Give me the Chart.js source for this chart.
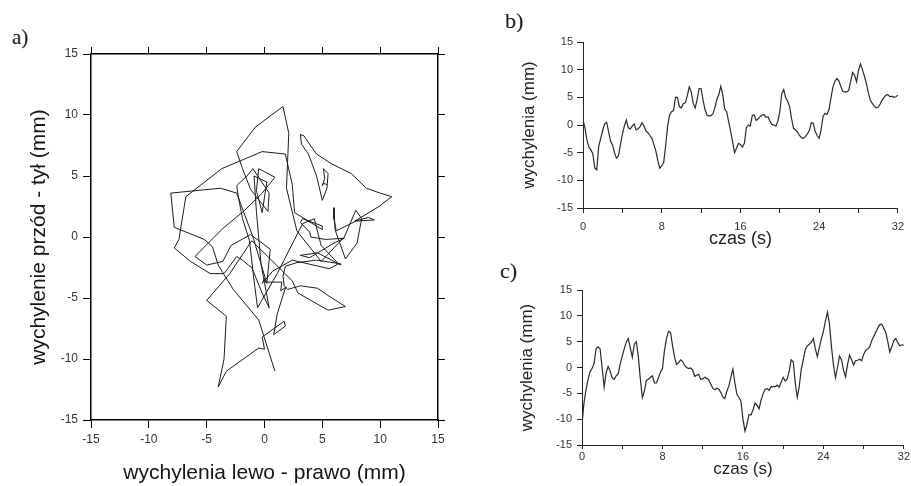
<!DOCTYPE html>
<html><head><meta charset="utf-8">
<script src="https://cdn.jsdelivr.net/npm/chart.js@4.4.1/dist/chart.umd.min.js"></script>
<style>
html,body{margin:0;padding:0;background:#fff}
body{width:911px;height:486px;overflow:hidden;position:relative}
canvas{position:absolute}
.lbl{position:absolute;font-family:'Liberation Serif','Times New Roman',serif;color:#111;line-height:1}
</style></head><body>
<div class="lbl" style="left:12px;top:27px;font-size:21px">a)</div>
<div class="lbl" style="left:505px;top:10px;font-size:22px">b)</div>
<div class="lbl" style="left:500px;top:260px;font-size:22px">c)</div>
<canvas id="cA" width="460" height="486" style="left:0;top:0"></canvas>
<canvas id="cB" width="411" height="250" style="left:500px;top:0"></canvas>
<canvas id="cC" width="411" height="236" style="left:500px;top:250px"></canvas>
<script>
// wychylenia lewo - prawo (mm), panel b, sampled every 0.2 s from 0 to 32 s
const lrValues = [
  0.9, -0.5, -2.7, -4.0, -4.5, -5.2, -7.8, -8.1, -3.8, -2.4,
  -1.0, 0.2, 0.5, -1.2, -2.9, -3.6, -5.0, -6.0, -5.6, -3.6,
  -1.7, -0.2, 0.9, -0.5, -0.7, -0.2, 0.2, -0.9, -0.7, -0.3,
  0.4, -0.2, -1.1, -1.4, -1.9, -2.4, -3.5, -4.7, -6.4, -7.8,
  -7.4, -6.8, -3.7, -0.2, 1.8, 2.4, 2.6, 5.0, 5.0, 3.3,
  3.1, 3.9, 4.0, 5.3, 6.9, 6.0, 3.9, 3.1, 4.6, 6.6,
  6.6, 4.5, 2.8, 1.8, 1.6, 1.7, 2.0, 3.1, 4.6, 5.5,
  7.0, 5.5, 2.9, 2.4, 0.6, -1.1, -3.0, -5.0, -4.2, -3.3,
  -3.5, -4.0, -3.3, -0.5, 0.0, -0.2, 1.7, 1.8, 0.8, 1.1,
  1.5, 1.8, 1.9, 1.4, 1.5, 0.7, 0.1, 0.0, -0.2, 0.7,
  2.4, 5.6, 6.4, 4.9, 4.3, 3.3, 1.1, -0.6, -0.9, -1.3,
  -1.9, -2.3, -2.4, -2.1, -1.6, -1.0, 0.4, 0.3, -1.2, -1.9,
  -2.4, -0.8, 1.6, 2.1, 1.9, 2.8, 4.9, 6.9, 7.9, 8.4,
  8.0, 7.0, 6.1, 6.0, 6.0, 6.2, 7.9, 9.5, 9.0, 7.8,
  9.9, 11.0, 10.0, 8.8, 7.5, 5.8, 4.5, 3.9, 3.4, 3.1,
  3.2, 3.8, 4.5, 5.0, 5.4, 5.5, 5.1, 5.2, 5.0, 5.1,
  5.4
];
// wychylenie przód - tył (mm), panel c, same sampling
const apValues = [
  -11.0, -6.8, -4.3, -2.3, -0.8, -0.2, 0.8, 3.6, 4.0, 3.6,
  0.0, -3.8, -1.0, 0.2, -0.7, -2.0, -2.3, -1.6, -1.2, 0.7,
  2.2, 3.6, 4.9, 5.6, 3.8, 2.0, 4.5, 5.0, 2.1, -2.2,
  -5.8, -4.6, -2.5, -2.3, -1.9, -1.6, -3.0, -3.0, -2.0, -0.9,
  -0.2, 3.3, 5.6, 7.0, 6.8, 4.3, 2.0, 0.6, 0.9, 1.5,
  1.2, 0.4, 0.0, -0.2, -0.1, -0.5, -1.7, -1.5, -1.3, -2.3,
  -2.2, -1.9, -2.1, -2.4, -3.2, -4.0, -4.3, -4.0, -4.2, -4.8,
  -5.7, -6.0, -4.6, -3.6, -1.9, -0.3, -3.0, -5.2, -5.8, -6.5,
  -10.0, -12.3, -11.0, -9.1, -9.2, -8.2, -6.9, -7.3, -8.0, -6.3,
  -5.1, -4.2, -4.1, -4.4, -3.7, -3.7, -3.7, -3.4, -3.8, -2.8,
  -1.9, -2.6, -2.2, -0.7, 1.5, 1.1, -3.0, -5.8, -3.6, -0.3,
  1.5, 3.5, 4.2, 4.5, 4.9, 5.6, 3.6, 2.1, 3.9, 5.6,
  7.0, 9.0, 10.7, 8.5, 4.0, 0.5, -2.0, 0.0, 2.2, 1.5,
  -0.5, -1.8, 0.6, 2.4, 1.5, 0.5, 1.3, 1.4, 1.6, 1.3,
  2.5, 3.3, 3.6, 4.0, 5.2, 6.0, 6.8, 7.6, 8.3, 8.4,
  7.6, 6.8, 5.0, 3.0, 4.0, 5.2, 5.6, 4.8, 4.2, 4.4,
  4.3
];
const sampleStep = 0.2; // s
const times = lrValues.map((_, i) => Math.round(i * sampleStep * 10) / 10);
const mmRange = [-15, 15];
const mmStep = 5;
const timeRange = [0, 32];
const timeTickStep = 4;
const timeLabelStep = 8;

const SANS = "'Liberation Sans', Arial, Helvetica, sans-serif";
const fixW = w => s => { s.width = w; };
const fixH = h => s => { s.height = h; };
const base = {
  responsive: false, animation: false, devicePixelRatio: 1,
  layout: { padding: 0 },
  plugins: { legend: { display: false }, tooltip: { enabled: false } }
};
const dummy = (pos, size) => ({
  type: 'linear', position: pos, display: true,
  grid: { display: false }, border: { display: false }, ticks: { display: false },
  afterFit: (pos === 'top' || pos === 'bottom') ? fixH(size) : fixW(size)
});

// Panel a: statokinesiogram (lewo-prawo vs przód-tył)
const pathA = lrValues.map((x, i) => ({ x: x, y: apValues[i] }));
const frameTicks = (len) => ({ drawOnChartArea: false, drawTicks: true, tickLength: len, color: '#000', lineWidth: 1 });
new Chart(document.getElementById('cA'), {
  type: 'scatter',
  data: { datasets: [{ data: pathA, showLine: true, borderColor: '#1c1c1c', borderWidth: 1, pointRadius: 0, tension: 0, fill: false }] },
  options: Object.assign({}, base, {
    scales: {
      x: {
        type: 'linear', position: 'bottom', min: mmRange[0], max: mmRange[1],
        ticks: { stepSize: mmStep, color: '#333', font: { family: SANS, size: 12 }, padding: 4, maxRotation: 0, autoSkip: false },
        grid: frameTicks(8), border: { color: '#000', width: 1.5 },
        title: { display: true, text: 'wychylenia lewo - prawo (mm)', color: '#151515', font: { family: SANS, size: 21 }, padding: { top: 0, bottom: 0 } },
        afterFit: fixH(66)
      },
      xTop: {
        type: 'linear', position: 'top', min: mmRange[0], max: mmRange[1],
        ticks: { stepSize: mmStep, display: false, autoSkip: false },
        grid: frameTicks(7), border: { color: '#000', width: 1.5 },
        afterFit: fixH(54)
      },
      y: {
        type: 'linear', position: 'left', min: mmRange[0], max: mmRange[1],
        ticks: { stepSize: mmStep, color: '#333', font: { family: SANS, size: 12 }, padding: 5, autoSkip: false },
        grid: frameTicks(8), border: { color: '#000', width: 1.5 },
        title: { display: true, text: 'wychylenie przód - tył (mm)', color: '#151515', font: { family: SANS, size: 21 }, padding: { top: 27, bottom: 0 } },
        afterFit: fixW(91)
      },
      yRight: {
        type: 'linear', position: 'right', min: mmRange[0], max: mmRange[1],
        ticks: { stepSize: mmStep, display: false, autoSkip: false },
        grid: frameTicks(7), border: { color: '#000', width: 1.5 },
        afterFit: fixW(22)
      }
    }
  })
});

function timeChart(id, values, o) {
  const pts = times.map((t, i) => ({ x: t, y: values[i] }));
  return new Chart(document.getElementById(id), {
    type: 'scatter',
    data: { datasets: [{ data: pts, showLine: true, borderColor: '#2a2a2a', borderWidth: 1.2, pointRadius: 0, tension: 0, fill: false }] },
    options: Object.assign({}, base, {
      scales: {
        x: {
          type: 'linear', position: 'bottom', min: timeRange[0], max: timeRange[1],
          ticks: { stepSize: timeTickStep, autoSkip: false, maxRotation: 0, color: '#333', font: { family: SANS, size: 11 }, padding: o.xPad,
                   callback: v => (v % timeLabelStep === 0 ? String(v) : '') },
          grid: { drawOnChartArea: false, drawTicks: true, tickLength: o.xTick, color: '#222' },
          border: { color: '#222', width: 1 },
          title: { display: true, text: 'czas (s)', color: '#222', font: { family: SANS, size: o.xTitleSize }, padding: { top: 0, bottom: o.xTitlePad } },
          afterFit: fixH(o.bottomH)
        },
        y: {
          type: 'linear', position: 'left', min: mmRange[0], max: mmRange[1],
          ticks: { stepSize: mmStep, autoSkip: false, color: '#333', font: { family: SANS, size: 11 }, padding: o.yPad },
          grid: { drawOnChartArea: false, drawTicks: true, tickLength: o.yTick, color: '#222' },
          border: { color: '#222', width: 1 },
          title: { display: true, text: 'wychylenia (mm)', color: '#222', font: { family: SANS, size: 17 }, padding: { top: o.yTitlePad, bottom: 0 } },
          afterFit: fixW(o.leftW)
        },
        xTop: dummy('top', o.topH),
        yRight: dummy('right', o.rightW)
      }
    })
  });
}

timeChart('cB', lrValues, { leftW: 83, rightW: 12, topH: 42, bottomH: 42, xTick: 5, xPad: 7, yTick: 6, yPad: 4, xTitleSize: 18, xTitlePad: 0, yTitlePad: 19 });
timeChart('cC', apValues, { leftW: 82, rightW: 7, topH: 40, bottomH: 41, xTick: 4, xPad: 1, yTick: 5, yPad: 5, xTitleSize: 17, xTitlePad: 6, yTitlePad: 17 });
</script>
</body></html>
